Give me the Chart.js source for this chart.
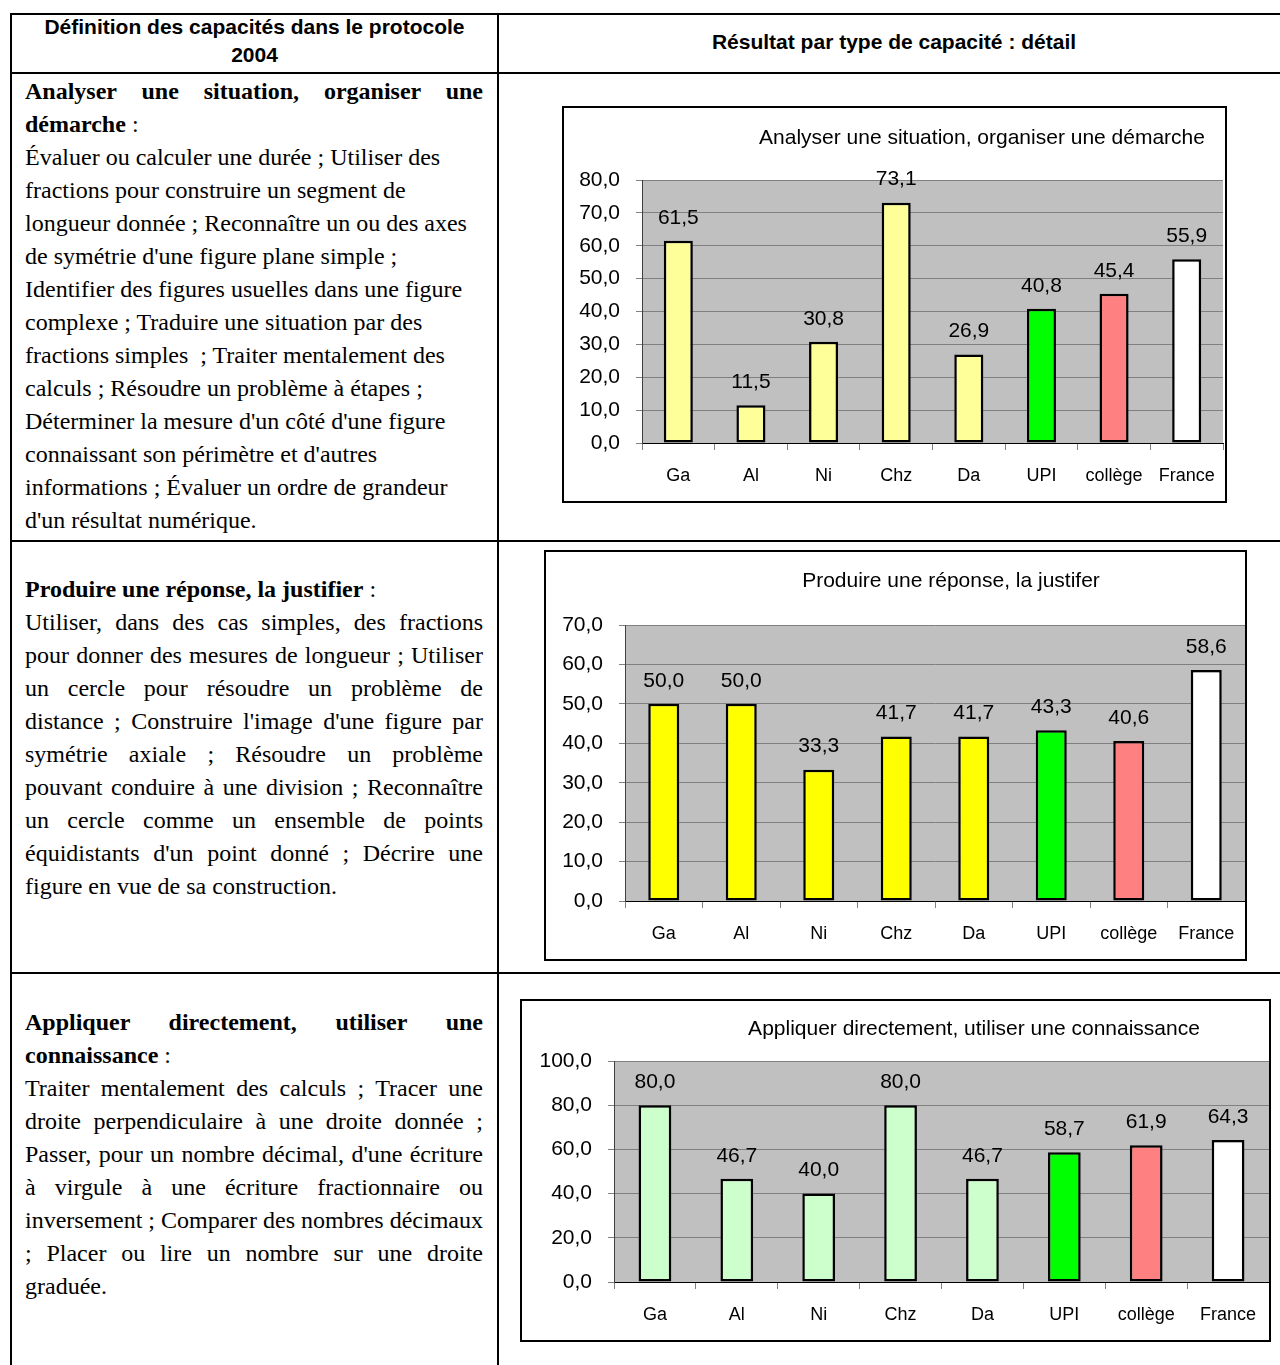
<!DOCTYPE html>
<html lang="fr">
<head>
<meta charset="utf-8">
<title>Résultat par type de capacité</title>
<script src="https://cdn.jsdelivr.net/npm/chart.js@4.4.1/dist/chart.umd.min.js"></script>
<style>
  html, body { margin: 0; padding: 0; background: #fff; }
  body { position: relative; width: 1280px; height: 1365px; overflow: hidden; }
  .rule { position: absolute; background: #000; }
  .head { position: absolute; font: bold 21px "Liberation Sans", Arial, sans-serif; line-height: 28px; text-align: center; color: #000; }
  .cell { position: absolute; left: 25px; width: 458px; font-family: "Liberation Serif", "Times New Roman", serif; font-size: 24px; line-height: 33px; color: #000; }
  .cell div { text-align: left; white-space: nowrap; }
  .cell div.j { text-align: justify; text-align-last: justify; white-space: normal; }
  .box { position: absolute; border: 2px solid #000; box-sizing: border-box; background: #fff; }
  .box canvas { display: block; }
</style>
</head>
<body>

<!-- table rules -->
<div class="rule" style="left:10px; top:13px; width:1270px; height:2px"></div>
<div class="rule" style="left:10px; top:72px; width:1270px; height:2px"></div>
<div class="rule" style="left:10px; top:540px; width:1270px; height:2px"></div>
<div class="rule" style="left:10px; top:972px; width:1270px; height:2px"></div>
<div class="rule" style="left:10px; top:13px; width:2px; height:1352px"></div>
<div class="rule" style="left:497px; top:13px; width:2px; height:1352px"></div>

<div class="head" style="left:12px; top:13px; width:485px">Définition des capacités dans le protocole<br>2004</div>
<div class="head" style="left:499px; top:28px; width:790px">Résultat par type de capacité : détail</div>

<div class="cell" style="top:75px">
  <div class="j"><b>Analyser une situation, organiser une</b></div>
  <div><b>démarche</b> :</div>
  <div>Évaluer ou calculer une durée ; Utiliser des</div>
  <div>fractions pour construire un segment de</div>
  <div>longueur donnée ; Reconnaître un ou des axes</div>
  <div>de symétrie d'une figure plane simple ;</div>
  <div>Identifier des figures usuelles dans une figure</div>
  <div>complexe ; Traduire une situation par des</div>
  <div>fractions simples&nbsp; ; Traiter mentalement des</div>
  <div>calculs ; Résoudre un problème à étapes ;</div>
  <div>Déterminer la mesure d'un côté d'une figure</div>
  <div>connaissant son périmètre et d'autres</div>
  <div>informations ; Évaluer un ordre de grandeur</div>
  <div>d'un résultat numérique.</div>
</div>

<div class="cell" style="top:573px">
  <div><b>Produire une réponse, la justifier</b> :</div>
  <div class="j">Utiliser, dans des cas simples, des fractions</div>
  <div class="j">pour donner des mesures de longueur ; Utiliser</div>
  <div class="j">un cercle pour résoudre un problème de</div>
  <div class="j">distance ; Construire l'image d'une figure par</div>
  <div class="j">symétrie axiale ; Résoudre un problème</div>
  <div class="j">pouvant conduire à une division ; Reconnaître</div>
  <div class="j">un cercle comme un ensemble de points</div>
  <div class="j">équidistants d'un point donné ; Décrire une</div>
  <div>figure en vue de sa construction.</div>
</div>

<div class="cell" style="top:1006px">
  <div class="j"><b>Appliquer directement, utiliser une</b></div>
  <div><b>connaissance</b> :</div>
  <div class="j">Traiter mentalement des calculs ; Tracer une</div>
  <div class="j">droite perpendiculaire à une droite donnée ;</div>
  <div class="j">Passer, pour un nombre décimal, d'une écriture</div>
  <div class="j">à virgule à une écriture fractionnaire ou</div>
  <div class="j">inversement ; Comparer des nombres décimaux</div>
  <div class="j">; Placer ou lire un nombre sur une droite</div>
  <div>graduée.</div>
</div>

<div class="box" style="left:562px; top:106px; width:665px; height:397px">
  <canvas id="chartAnalyser" width="661" height="393"></canvas>
</div>
<div class="box" style="left:544px; top:550px; width:703px; height:411px">
  <canvas id="chartProduire" width="699" height="407"></canvas>
</div>
<div class="box" style="left:520px; top:999px; width:751px; height:343px">
  <canvas id="chartAppliquer" width="747" height="339"></canvas>
</div>

<script>
"use strict";

// data
var categories = ['Ga', 'Al', 'Ni', 'Chz', 'Da', 'UPI', 'collège', 'France'];

var analyserValues  = [61.5, 11.5, 30.8, 73.1, 26.9, 40.8, 45.4, 55.9];
var produireValues  = [50.0, 50.0, 33.3, 41.7, 41.7, 43.3, 40.6, 58.6];
var appliquerValues = [80.0, 46.7, 40.0, 80.0, 46.7, 58.7, 61.9, 64.3];

// y axis: [max, step]
var analyserTicks  = [80, 10];
var produireTicks  = [70, 10];
var appliquerTicks = [100, 20];

var FONT = '"Liberation Sans", Arial, sans-serif';
Chart.defaults.font.family = FONT;
Chart.defaults.color = '#000';

function frNum(v) {
    return Number(v).toFixed(1).replace('.', ',');
}

// grey plot area like Excel 2003
var plotBackground = {
    id: 'plotBackground',
    beforeDraw: function (chart) {
        var a = chart.chartArea, ctx = chart.ctx;
        ctx.save();
        ctx.fillStyle = '#C0C0C0';
        ctx.fillRect(a.left, a.top, a.right - a.left, a.bottom - a.top);
        ctx.restore();
    }
};

// values above bars + free-placed title
var barLabels = {
    id: 'barLabels',
    afterDatasetsDraw: function (chart, args, opts) {
        var ctx = chart.ctx;
        ctx.save();
        ctx.font = '21px ' + FONT;
        ctx.fillStyle = '#000';
        ctx.textAlign = 'center';
        ctx.textBaseline = 'middle';
        chart.getDatasetMeta(0).data.forEach(function (bar, i) {
            ctx.fillText(frNum(chart.data.datasets[0].data[i]), bar.x, bar.y - 23);
        });
        if (opts.title) {
            ctx.fillText(opts.title, opts.titleX, opts.titleY);
        }
        ctx.restore();
    }
};

function barChart(id, values, ticks, baseColor, geo) {
    var colors = values.map(function (v, i) {
        if (categories[i] === 'UPI') return '#00FF00';
        if (categories[i] === 'collège') return '#FF8080';
        if (categories[i] === 'France') return '#FFFFFF';
        return baseColor;
    });

    return new Chart(document.getElementById(id), {
        type: 'bar',
        data: {
            labels: categories,
            datasets: [{
                data: values,
                backgroundColor: colors,
                borderColor: '#000',
                borderWidth: 2.5,
                borderSkipped: false,
                barPercentage: 0.4,
                categoryPercentage: 1
            }]
        },
        options: {
            responsive: false,
            animation: false,
            layout: { padding: { left: 0, right: geo.right, top: geo.top, bottom: 0 } },
            plugins: {
                legend: { display: false },
                tooltip: { enabled: false },
                barLabels: { title: geo.title, titleX: geo.titleX, titleY: geo.titleY }
            },
            scales: {
                x: {
                    afterFit: function (s) {
                        s.height = geo.bottom;
                        // labels sit inside their category, no extra side room needed
                        s.paddingLeft = 0;
                        s.paddingRight = 0;
                    },
                    grid: { offset: true, drawOnChartArea: false, color: '#808080', tickLength: 7 },
                    border: { color: '#000', width: 1 },
                    ticks: { font: { size: 18 }, padding: 15, maxRotation: 0 }
                },
                y: {
                    min: 0,
                    max: ticks[0],
                    afterFit: function (s) { s.width = geo.left; },
                    grid: { color: '#808080', tickLength: 6 },
                    border: { color: '#404040', width: 1 },
                    ticks: {
                        stepSize: ticks[1],
                        font: { size: 21 },
                        padding: 16,
                        callback: function (v) { return frNum(v); }
                    }
                }
            }
        },
        plugins: [plotBackground, barLabels]
    });
}

barChart('chartAnalyser', analyserValues, analyserTicks, '#FFFF99', {
    left: 78, right: 2, top: 72, bottom: 58,
    title: 'Analyser une situation, organiser une démarche', titleX: 418, titleY: 30
});
barChart('chartProduire', produireValues, produireTicks, '#FFFF00', {
    left: 79, right: 0, top: 73, bottom: 58,
    title: 'Produire une réponse, la justifer', titleX: 405, titleY: 29
});
barChart('chartAppliquer', appliquerValues, appliquerTicks, '#CCFFCC', {
    left: 92, right: 0, top: 60, bottom: 58,
    title: 'Appliquer directement, utiliser une connaissance', titleX: 452, titleY: 28
});
</script>
</body>
</html>
